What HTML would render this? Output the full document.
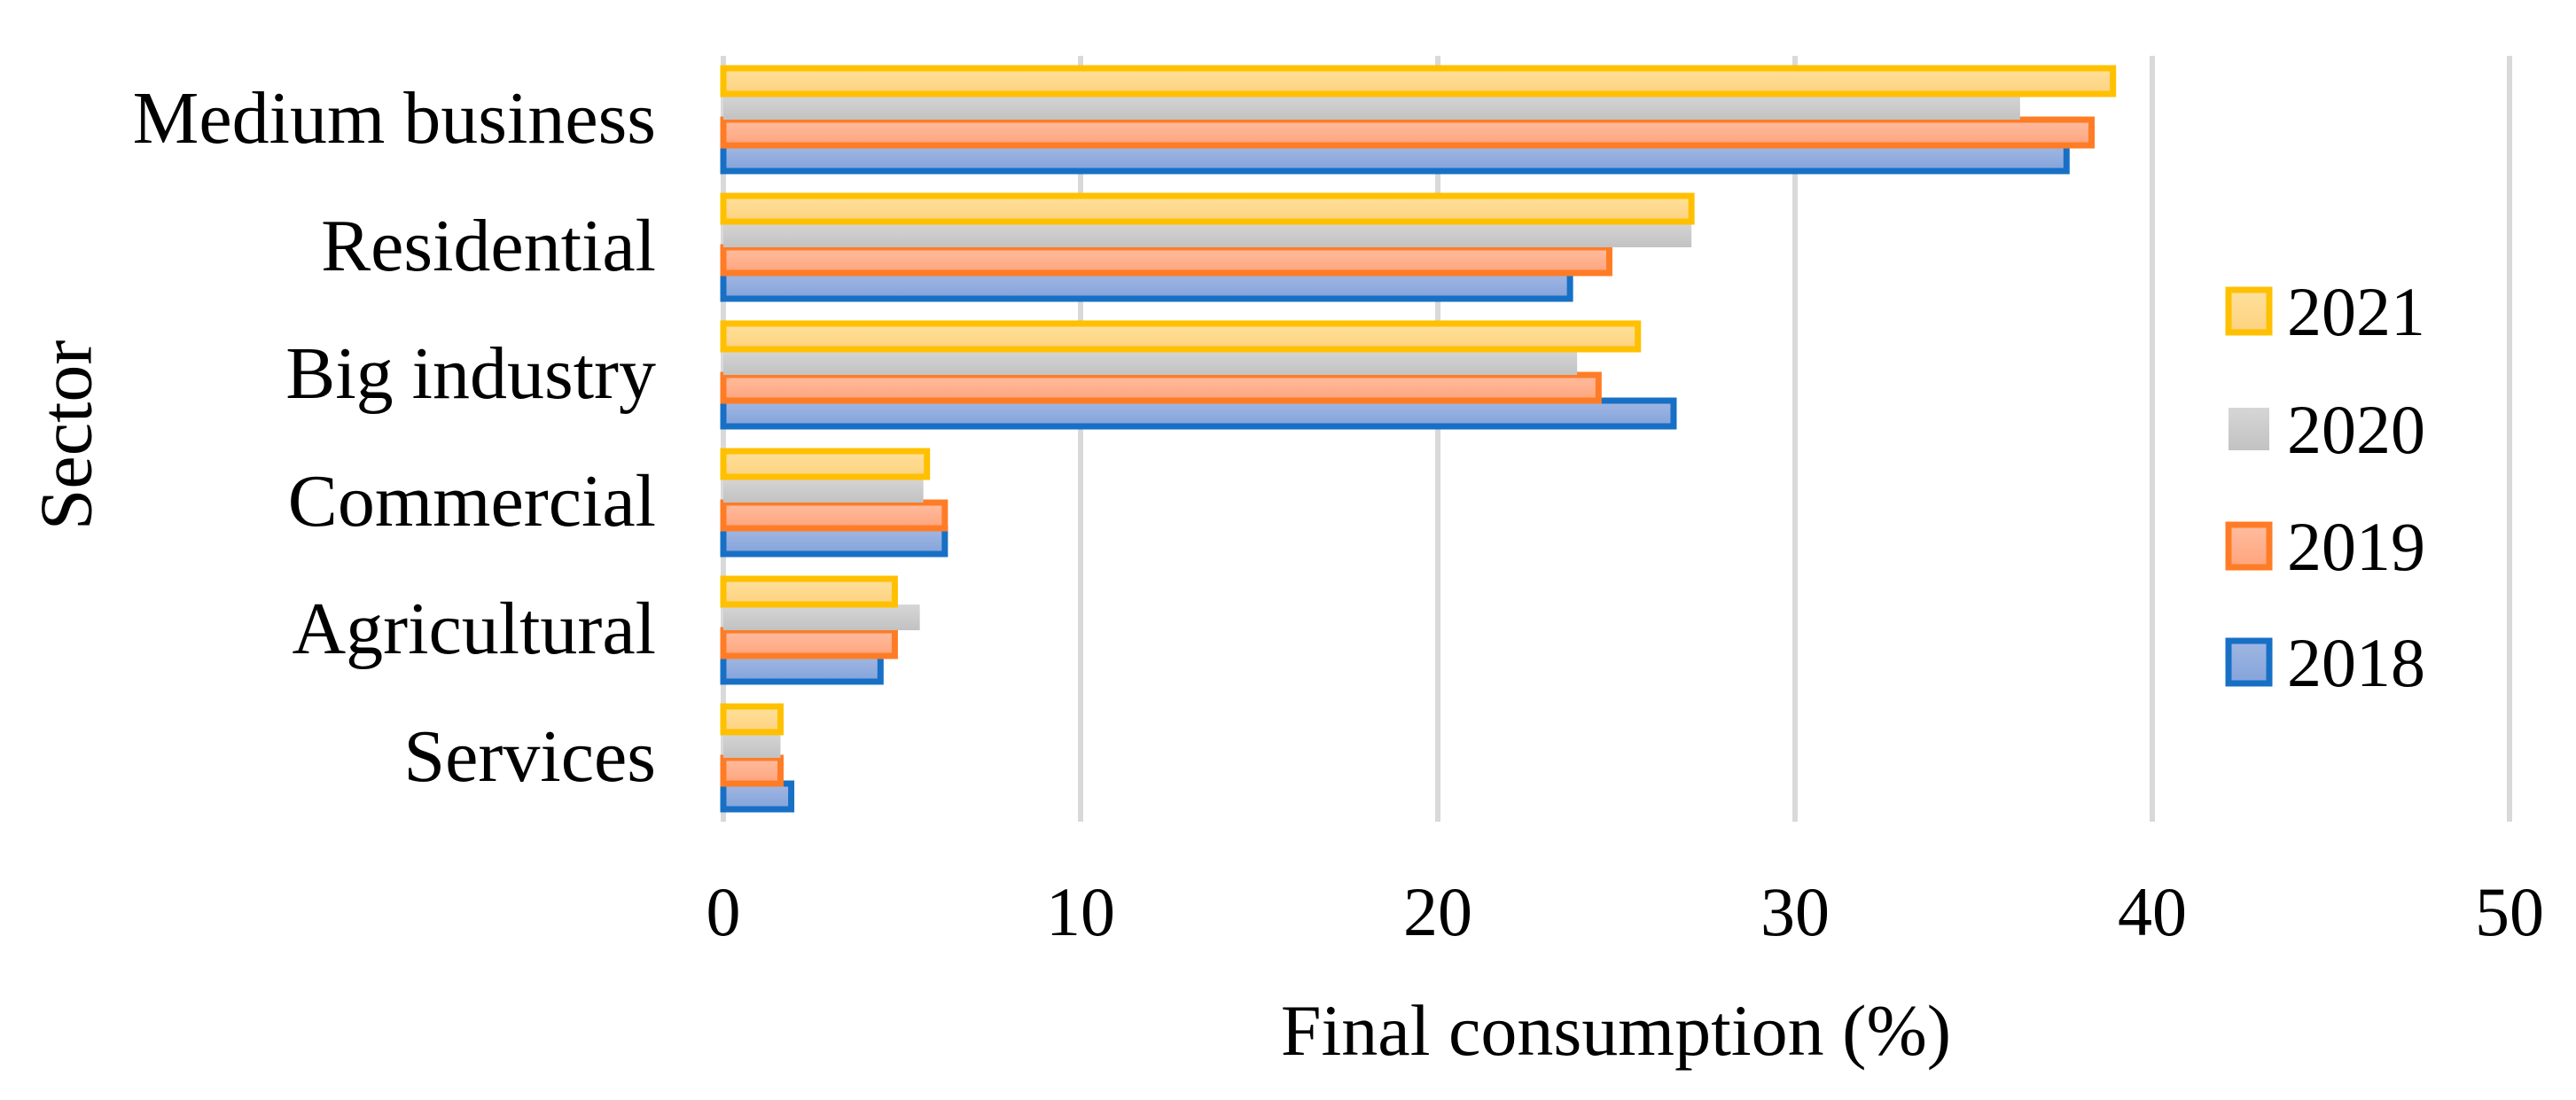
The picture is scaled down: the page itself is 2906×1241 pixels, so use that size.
<!DOCTYPE html>
<html><head><meta charset="utf-8"><style>
html,body{margin:0;padding:0;background:#fff;}
svg text{font-family:"Liberation Serif",serif;fill:#000;}
</style></head><body>
<svg id="chart" width="2906" height="1236" viewBox="0 0 2906 1236" xmlns="http://www.w3.org/2000/svg">
<defs>
<linearGradient id="g2021" x1="0" y1="0" x2="0" y2="1"><stop offset="0" stop-color="#FFE09C"/><stop offset="1" stop-color="#FDD27E"/></linearGradient>
<linearGradient id="g2020" x1="0" y1="0" x2="0" y2="1"><stop offset="0" stop-color="#D6D6D6"/><stop offset="1" stop-color="#C2C2C2"/></linearGradient>
<linearGradient id="g2019" x1="0" y1="0" x2="0" y2="1"><stop offset="0" stop-color="#FFBDA0"/><stop offset="1" stop-color="#FFA47C"/></linearGradient>
<linearGradient id="g2018" x1="0" y1="0" x2="0" y2="1"><stop offset="0" stop-color="#A0B7E2"/><stop offset="1" stop-color="#84A3DB"/></linearGradient>
</defs>
<g id="grid"></g>
<g id="bars"></g>
<g id="labels"></g>
<text x="83" y="491" font-size="84" text-anchor="middle" transform="rotate(-90 83 491)" dominant-baseline="middle">Sector</text>
<text x="1823" y="1190" font-size="82" text-anchor="middle">Final consumption (%)</text>
<g id="legend"></g>
</svg>
<script>
const categories = ["Medium business","Residential","Big industry","Commercial","Agricultural","Services"];
const seriesNames = ["2021","2020","2019","2018"];
const v2021 = [38.9, 27.1, 25.6, 5.7, 4.8, 1.6];
const v2020 = [36.3, 27.1, 23.9, 5.6, 5.5, 1.6];
const v2019 = [38.3, 24.8, 24.5, 6.2, 4.8, 1.6];
const v2018 = [37.6, 23.7, 26.6, 6.2, 4.4, 1.9];
const xTicks = [0, 10, 20, 30, 40, 50];

const NS = "http://www.w3.org/2000/svg";
const X0 = 816, X1 = 2831, XMAX = 50;
const TOP = 63, BAND = 144, BAR_H = 29, OFF = 14;
const xs = v => X0 + v / XMAX * (X1 - X0);
const fills = ["url(#g2021)","url(#g2020)","url(#g2019)","url(#g2018)"];
const strokes = ["#FFC000", "none", "#FF7C26", "#1770C5"];
const values = [v2021, v2020, v2019, v2018];
function mk(tag, attrs, parent){const e=document.createElementNS(NS,tag);for(const k in attrs)e.setAttribute(k,attrs[k]);parent.appendChild(e);return e;}

const grid = document.getElementById('grid');
const labels = document.getElementById('labels');
xTicks.forEach(t => {
  const l = mk('line', {x1: xs(t), x2: xs(t), y1: TOP, y2: TOP + BAND * categories.length, stroke: '#D9D9D9', 'stroke-width': 6}, grid);
  
  
  const tx = mk('text', {x: xs(t), y: 1055, 'font-size': 78, 'text-anchor': 'middle'}, labels);
  tx.textContent = t;
  
  
});
categories.forEach((c, i) => {
  const tx = mk('text', {x: 740, y: TOP + BAND * i + BAND / 2 + 26, 'font-size': 84, 'text-anchor': 'end'}, labels);
  tx.textContent = c;
  
  
});
const bars = document.getElementById('bars');
for (let s = 3; s >= 0; s--) {
  categories.forEach((c, i) => {
    const y = TOP + BAND * i + OFF + s * BAR_H;
    const r = mk('rect', {x: X0, y: y, width: xs(values[s][i]) - X0, height: BAR_H, fill: fills[s], stroke: strokes[s], 'stroke-width': strokes[s] === 'none' ? 0 : 7}, bars);
    
    
  });
}
const legend = document.getElementById('legend');
const legY = [351, 484, 616, 747];
seriesNames.forEach((n, s) => {
  const r = mk('rect', {x: 2514, y: legY[s] - 24, width: 46, height: 48, fill: fills[s], stroke: strokes[s], 'stroke-width': strokes[s] === 'none' ? 0 : 7}, legend);
  
  
  const t = mk('text', {x: 2580, y: legY[s] + 27, 'font-size': 78}, legend);
  t.textContent = n;
  
  
});
</script>
</body></html>
